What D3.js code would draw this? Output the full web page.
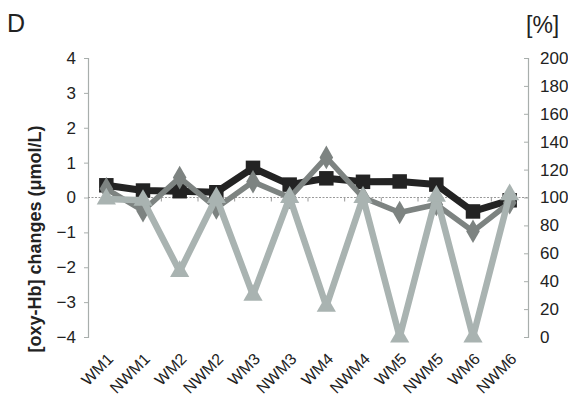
<!DOCTYPE html>
<html>
<head>
<meta charset="utf-8">
<script src="https://cdn.jsdelivr.net/npm/d3@7"></script>
<style>
  body { margin: 0; background: #fff; }
  svg { font-family: "Liberation Sans", Arial, sans-serif; }
</style>
</head>
<body>
<div id="chart"></div>
<script>
// categories on the x axis
const categories = ['WM1', 'NWM1', 'WM2', 'NWM2', 'WM3', 'NWM3', 'WM4', 'NWM4', 'WM5', 'NWM5', 'WM6', 'NWM6'];

// left axis series (umol/L)
const blackSeries = [0.35, 0.2, 0.18, 0.15, 0.85, 0.37, 0.55, 0.45, 0.46, 0.37, -0.4, -0.08];
const darkSeries = [0.25, -0.38, 0.57, -0.3, 0.45, 0.0, 1.15, 0.0, -0.43, -0.2, -0.97, -0.15];

// right axis series (%)
const lightSeries = [99, 98, 47, 100, 30, 100, 22, 100, 0, 101, 0, 102];

const leftTicks = [-4, -3, -2, -1, 0, 1, 2, 3, 4];
const rightTicks = [0, 20, 40, 60, 80, 100, 120, 140, 160, 180, 200];

const width = 568, height = 400;
const margin = {top: 58, right: 40, bottom: 63, left: 88};

const svg = d3.select('#chart')
  .append('svg')
    .attr('width', width)
    .attr('height', height);

const x = d3.scaleBand()
  .domain(categories)
  .range([margin.left, width - margin.right]);

const yLeft = d3.scaleLinear()
  .domain([-4, 4])
  .range([height - margin.bottom, margin.top]);

const yRight = d3.scaleLinear()
  .domain([0, 200])
  .range([height - margin.bottom, margin.top]);

const axisColor = '#a8aeac';

// left axis
const gl = svg.append('g')
  .attr('transform', `translate(${margin.left}, 0)`)
  .call(d3.axisLeft(yLeft).tickValues(leftTicks).tickSize(4).tickPadding(8));
gl.select('.domain').attr('stroke', axisColor).attr('stroke-width', 1.2);
gl.selectAll('.tick line').attr('stroke', axisColor);
gl.selectAll('.tick text').attr('font-size', 17).attr('fill', '#222');

// right axis
const gr = svg.append('g')
  .attr('transform', `translate(${width - margin.right}, 0)`)
  .call(d3.axisRight(yRight).tickValues(rightTicks).tickSizeInner(-4).tickSizeOuter(-4).tickPadding(12));
gr.select('.domain').attr('stroke', axisColor).attr('stroke-width', 1.2);
gr.selectAll('.tick line').attr('stroke', axisColor);
gr.selectAll('.tick text').attr('font-size', 17).attr('fill', '#222');

// x axis along the zero line
const bounds = categories.map(c => x(c)).concat([x.range()[1]]);
svg.append('line')
  .attr('x1', margin.left).attr('x2', width - margin.right)
  .attr('y1', yLeft(0)).attr('y2', yLeft(0))
  .attr('stroke', '#999').attr('stroke-width', 1.2)
  .attr('stroke-dasharray', '2,1.5');
svg.append('g').selectAll('line')
  .data(bounds.slice(1, -1))
  .enter().append('line')
  .attr('x1', d => d).attr('x2', d => d)
  .attr('y1', yLeft(0)).attr('y2', yLeft(0) + 4)
  .attr('stroke', '#999');

// x labels
svg.append('g').selectAll('text')
  .data(categories)
  .enter().append('text')
  .attr('transform', d => `translate(${x(d) + x.bandwidth() / 2 + 8}, ${height - margin.bottom + 23}) rotate(-45)`)
  .attr('text-anchor', 'end')
  .attr('font-size', 16)
  .attr('fill', '#222')
  .text(d => d);

function drawSeries(values, scale, color, lw, shape, size) {
  const line = d3.line()
    .x((d, i) => x(categories[i]) + x.bandwidth() / 2)
    .y(d => scale(d));
  svg.append('path')
    .datum(values)
    .attr('fill', 'none')
    .attr('stroke', color)
    .attr('stroke-width', lw)
    .attr('stroke-linejoin', 'round')
    .attr('d', line);
  svg.append('g').selectAll('path')
    .data(values)
    .enter().append('path')
    .attr('transform', (d, i) => `translate(${x(categories[i]) + x.bandwidth() / 2}, ${scale(d)})`)
    .attr('d', d3.symbol().type(shape).size(size))
    .attr('fill', color);
}

drawSeries(blackSeries, yLeft, '#232323', 7, d3.symbolSquare, 210);
drawSeries(darkSeries, yLeft, '#7d8381', 5.5, d3.symbolDiamond, 160);
drawSeries(lightSeries, yRight, '#a9b3b1', 6.5, d3.symbolTriangle, 160);

// titles
svg.append('text')
  .attr('x', 7).attr('y', 32)
  .attr('font-size', 25).attr('fill', '#222')
  .text('D');

svg.append('text')
  .attr('x', 526).attr('y', 33)
  .attr('font-size', 23).attr('fill', '#222')
  .text('[%]');

svg.append('text')
  .attr('transform', `translate(41, 239) rotate(-90)`)
  .attr('text-anchor', 'middle')
  .attr('font-size', 18)
  .attr('font-weight', 'bold')
  .attr('fill', '#222')
  .text('[oxy-Hb] changes (μmol/L)');
</script>
</body>
</html>
